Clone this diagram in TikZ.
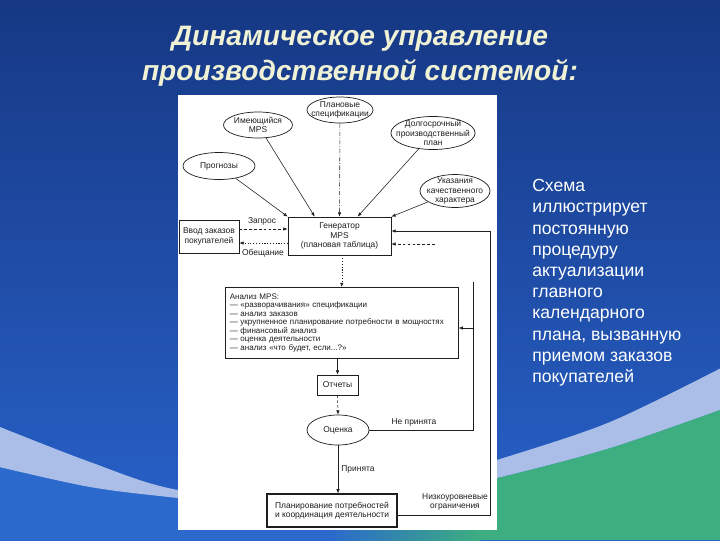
\documentclass[tikz,border=0pt]{standalone}
\usepackage{fontspec}
\setmainfont{Liberation Sans}
\usetikzlibrary{arrows.meta,shapes.geometric}

\definecolor{navy}{RGB}{22,56,132}
\definecolor{slideblue}{RGB}{40,98,202}
\definecolor{lowblue}{RGB}{43,106,204}
\definecolor{bandblue}{RGB}{170,190,232}
\definecolor{slidegreen}{RGB}{61,174,128}
\definecolor{titlecream}{RGB}{240,242,214}
\definecolor{ink}{RGB}{30,30,30}

\def\lowedge{(725,408) (610,448) (497,478) (340,514) (178,498) (90,487) (-5,466)}

\begin{document}
\begin{tikzpicture}[x=0.025cm,y=-0.025cm,
    ftext/.style={font=\fontsize{6}{6.6}\selectfont, text=ink, align=center, inner sep=0pt},
    boxnode/.style={ftext, draw=ink, line width=0.5pt, rectangle},
    ovalnode/.style={ftext, draw=ink, line width=0.5pt, ellipse, inner xsep=-5pt, inner ysep=-1pt},
    flow/.style={draw=ink, line width=0.4pt, -{Latex[length=3pt,width=2.4pt]}},
    dashflow/.style={flow, dash pattern=on 2pt off 1.5pt},
    dotflow/.style={flow, dash pattern=on 0.8pt off 1.2pt},
    plainline/.style={draw=ink, line width=0.4pt}
    ]
    \useasboundingbox (0,0) rectangle (720,540);

    % slide background
    \shade[top color=navy, bottom color=slideblue] (0,0) rectangle (720,540);
    \begin{scope}
      \clip plot[smooth] coordinates {\lowedge} -- (-5,545) -- (725,545) -- cycle;
      \fill[lowblue] (0,370) rectangle (330,540);
      \shade[left color=lowblue, right color=slidegreen] (330,370) rectangle (480,540);
      \fill[slidegreen] (480,370) rectangle (720,540);
    \end{scope}
    % light band
    \fill[bandblue] plot[smooth] coordinates {(-5,425) (90,462) (178,490) (340,508) (497,460) (610,422) (725,366)}
      -- plot[smooth] coordinates {\lowedge} -- cycle;

    % panel with the scheme
    \fill[white] (178,95) rectangle (497,530);

    % title
    \node[font=\fontsize{20}{25}\selectfont\bfseries\itshape, text=titlecream, align=center]
      (title) at (360,56) {Динамическое управление\\производственной системой:};

    % comment on the right
    \node[font=\fontsize{12.5}{15.1}\selectfont, text=white, align=left, anchor=north west, inner sep=0pt]
      (note) at (532,179) {Схема\\иллюстрирует\\постоянную\\процедуру\\актуализации\\главного\\календарного\\плана, вызванную\\приемом заказов\\покупателей};

    % sources
    \node[ovalnode, minimum width=1.65cm, minimum height=0.65cm] (spec) at (340,110) {Плановые\\спецификации};
    \node[ovalnode, minimum width=1.725cm, minimum height=0.65cm] (mps) at (258,125) {Имеющийся\\MPS};
    \node[ovalnode, minimum width=2.075cm, minimum height=0.825cm] (longplan) at (433,133) {Долгосрочный\\производственный\\план};
    \node[ovalnode, minimum width=1.8cm, minimum height=0.675cm] (forecast) at (219,166) {Прогнозы};
    \node[ovalnode, minimum width=1.75cm, minimum height=0.8cm] (quality) at (455,191) {Указания\\качественного\\характера};

    % generator and orders
    \node[boxnode, minimum width=2.575cm, minimum height=0.95cm] (gen) at (339.5,236) {Генератор\\MPS\\(плановая таблица)};
    \node[boxnode, minimum width=1.5cm, minimum height=0.825cm] (orders) at (209,236.5) {Ввод заказов\\покупателей};

    % analysis
    \node[boxnode, align=left, font=\fontsize{5.7}{6.1}\selectfont, text width=5.6cm, minimum height=1.775cm,
      inner xsep=0.11cm, anchor=north west] (analysis) at (225,287)
      {Анализ MPS:\\— «разворачивания» спецификации\\— анализ заказов\\\mbox{— укрупненное планирование потребности в мощностях}\\— финансовый анализ\\— оценка деятельности\\— анализ «что будет, если...?»};

    % reports, evaluation, planning
    \node[boxnode, minimum width=1.025cm, minimum height=0.5cm] (reports) at (337.5,385) {Отчеты};
    \node[ovalnode, minimum width=1.55cm, minimum height=0.75cm] (eval) at (338,430) {Оценка};
    \node[boxnode, line width=0.8pt, minimum width=3.25cm, minimum height=0.825cm] (coord) at (332,510.5) {Планирование потребностей\\и координация деятельности};

    % inputs of the generator
    \draw[flow] (forecast) -- (gen.north west);
    \draw[flow] (mps) -- (gen.142);
    \draw[flow, dash pattern=on 3pt off 1.2pt on 0.6pt off 1.2pt] (spec) -- (gen.north);
    \draw[flow] (longplan) -- (gen.47);
    \draw[flow] (quality) -- (gen.north east);

    % orders <-> generator
    \coordinate (askpt) at (239,229);
    \coordinate (promisept) at (288,243);
    \draw[dashflow] (askpt) -- (askpt -| gen.west);
    \draw[dotflow] (promisept) -- (promisept -| orders.east);
    \node[ftext] (asklabel) at (262,221) {Запрос};
    \node[ftext] (promiselabel) at (263,253) {Обещание};

    % main chain
    \draw[dotflow] (gen.south -| analysis.north) -- (analysis.north);
    \draw[flow] (reports.north |- analysis.south) -- (reports.north);
    \draw[dashflow] (reports.south) -- (eval.north);
    \draw[flow] (eval.south) -- (eval.south |- coord.north);
    \node[ftext] (acceptlabel) at (358,469) {Принята};

    % loop "not accepted"
    \coordinate (rejcorner) at (473,430);
    \coordinate (rejtop) at (473,282);
    \coordinate (rejmid) at (473,328);
    \coordinate (retry) at (435,244);
    \draw[plainline] (eval.east) -- (rejcorner) -- (rejtop);
    \draw[flow] (rejmid) -- (rejmid -| analysis.east);
    \draw[dashflow] (retry) -- (retry -| gen.east);
    \node[ftext] (rejlabel) at (414,422) {Не принята};

    % low level limits
    \coordinate (lowcorner) at (490,515);
    \coordinate (topcorner) at (490,231);
    \draw[flow] (coord.east |- lowcorner) -- (lowcorner) -- (topcorner) -- (topcorner -| gen.east);
    \node[ftext] (lowlabel) at (455,502) {Низкоуровневые\\ограничения};
\end{tikzpicture}
\end{document}
